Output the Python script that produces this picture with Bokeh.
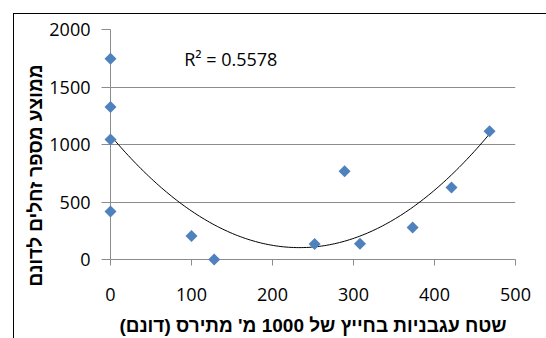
import numpy as np
from bokeh.plotting import figure
from bokeh.models import Range1d, FixedTicker, Label, Title
from bokeh.embed import file_html
from bokeh.resources import INLINE

# data
x_vals = [0, 0, 0, 0, 100, 128, 252, 289, 308, 373, 421, 468]
y_vals = [1745, 1327, 1043, 417, 205, 0, 135, 768, 136, 278, 626, 1116]
x_ticks = [0, 100, 200, 300, 400, 500]
y_ticks = [0, 500, 1000, 1500, 2000]
x_title = "שטח עגבניות בחייץ של 1000 מ' מתירס (דונם)"
y_title = "ממוצע מספר זחלים לדונם"
r2_text = "R² = 0.5578"

GRAY = "#8c8c8c"
TICK_FONT = "Open Sans"
TITLE_FONT = "Liberation Sans"

p = figure(width=532, height=324, frame_width=405, frame_height=230,
           output_backend="svg", toolbar_location=None,
           x_range=Range1d(0, 500), y_range=Range1d(0, 2000),
           min_border_left=96, min_border_right=31, min_border_top=15, min_border_bottom=50,
           styles={"border-top": "1px solid black", "border-left": "1px solid black"},
           margin=(13, 0, 0, 13))
p.outline_line_color = None
p.background_fill_color = "white"
p.border_fill_color = "white"

p.xgrid.visible = False
p.ygrid.ticker = FixedTicker(ticks=y_ticks)
p.ygrid.grid_line_color = GRAY
p.ygrid.grid_line_width = 1

for ax in (p.xaxis[0], p.yaxis[0]):
    ax.axis_line_color = GRAY
    ax.major_tick_line_color = GRAY
    ax.minor_tick_line_color = None
    ax.major_tick_in = 0
    ax.major_label_text_font = TICK_FONT
    ax.major_label_text_font_size = "18px"
    ax.major_label_text_color = "black"

p.xaxis.ticker = FixedTicker(ticks=x_ticks)
p.yaxis.ticker = FixedTicker(ticks=y_ticks)
p.xaxis.major_tick_out = 6
p.xaxis.major_label_standoff = 22
p.yaxis.major_tick_out = 9
p.yaxis.major_label_standoff = 11

# x title as the axis label
p.xaxis.axis_label = x_title + "\u200f"
p.xaxis.axis_label_standoff = 11
p.xaxis.axis_label_text_font = TITLE_FONT
p.xaxis.axis_label_text_font_size = "19px"
p.xaxis.axis_label_text_font_style = "bold"
p.xaxis.axis_label_text_color = "black"

# y title placed lower than the frame centre, as in the reference
ty = Title(text=y_title, align="left", offset=-27, standoff=2,
           text_font=TITLE_FONT, text_font_size="19px", text_font_style="bold",
           text_color="black")
p.add_layout(ty, "left")

# quadratic trendline fitted to the points
coef = np.polyfit(x_vals, y_vals, 2)
xs = np.linspace(0, max(x_vals), 150)
ys = np.polyval(coef, xs)
p.line(xs, ys, line_color="black", line_width=1)

p.scatter(x_vals, y_vals, marker="square", size=8.5, angle=np.pi / 4,
          fill_color="#4F81BD", line_color=None, level="overlay")

p.add_layout(Label(x=91, y=1740, text=r2_text, text_font=TICK_FONT,
                   text_font_size="18px", text_baseline="middle", text_align="left",
                   text_color="black"))

open("out.html", "w", encoding="utf-8").write(file_html(p, INLINE))
